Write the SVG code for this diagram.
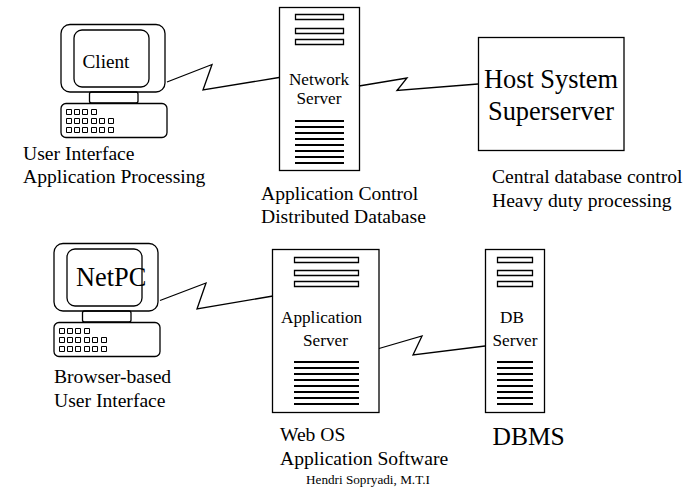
<svg xmlns="http://www.w3.org/2000/svg" xmlns:xlink="http://www.w3.org/1999/xlink" width="691" height="488" viewBox="0 0 691 488">
<style>
text{font-family:"Liberation Serif","Times New Roman",serif;fill:#000}
.s{fill:none;stroke:#000;stroke-width:1.3}
.k{fill:none;stroke:#000;stroke-width:1}
.b{stroke:#000;stroke-width:2;fill:none}
.l{font-size:19.6px}
.m{font-size:17.2px}
.h{font-size:26.4px}
</style>
<defs>
<g id="pc">
<rect class="s" x="61" y="24.500" width="104" height="67.500" rx="9"/>
<rect class="s" x="74" y="30" width="75" height="57" rx="8"/>
<rect class="s" x="89.500" y="92" width="48.500" height="11" rx="2"/>
<rect class="s" x="61" y="103.500" width="106" height="34" rx="5"/>
<path class="k" d="M66.500 109.500h5v5h-5zM74.500 109.500h5v5h-5zM82.500 109.500h5v5h-5zM91.500 109.500h5v5h-5zM66.500 118.500h5v5h-5zM74.500 118.500h5v5h-5zM82.500 118.500h5v5h-5zM91.500 118.500h5v5h-5zM99.500 118.500h5v5h-5zM108.500 118.500h5v5h-5zM66.500 127.500h5v5h-5zM74.500 127.500h5v5h-5zM82.500 127.500h5v5h-5zM91.500 127.500h5v5h-5zM99.500 127.500h5v5h-5zM108.500 127.500h5v5h-5z"/>
</g>
</defs>
<g id="connectors" class="s">
<path d="M167 82L212 64.500L203 90L279 77.500"/>
<path d="M359 86L407 78L397 90.500L478 84"/>
<path d="M160 300.500L206 283L197 309L273 296"/>
<path d="M379 348.500L422 336L413 355L485 346"/>
</g>
<g id="client">
<use xlink:href="#pc" href="#pc"/>
<text x="82.500" y="68" font-size="19.200">Client</text>
</g>
<g id="network-server">
<rect class="s" x="279.500" y="7.500" width="80" height="163"/>
<path class="s" d="M295.500 14.500h48v5h-48zM295.500 28.500h48v5h-48zM295.500 39.500h48v5h-48z"/>
<path class="b" d="M295 121h49M295 127h49M295 133h49M295 139h49M295 145h49M295 151h49M295 157h49M295 163h49"/>
<text class="m" x="319" y="85" text-anchor="middle">Network</text>
<text class="m" x="319" y="104" text-anchor="middle">Server</text>
</g>
<g id="host-system">
<rect class="s" x="478.500" y="37.500" width="145.500" height="113"/>
<text class="h" x="551" y="88" text-anchor="middle">Host System</text>
<text class="h" x="551" y="120" text-anchor="middle">Superserver</text>
</g>
<g id="netpc">
<use xlink:href="#pc" href="#pc" transform="translate(-7 219)"/>
<text class="h" x="76" y="286">NetPC</text>
</g>
<g id="application-server">
<rect class="s" x="272.500" y="249.500" width="106.500" height="163"/>
<path class="s" d="M294.500 257.500h64v5h-64zM294.500 270.500h64v5h-64zM294.500 281.500h64v5h-64z"/>
<path class="b" d="M294 362h65M294 368h65M294 374h65M294 380h65M294 386h65M294 392h65M294 398h65M294 404h65"/>
<text class="m" x="281" y="323">Application</text>
<text class="m" x="303" y="346">Server</text>
</g>
<g id="db-server">
<rect class="s" x="485.500" y="249.500" width="59" height="163"/>
<path class="s" d="M497.500 257.500h35v5h-35zM497.500 270.500h35v5h-35zM497.500 281.500h35v5h-35z"/>
<path class="b" d="M497 362h36M497 368h36M497 374h36M497 380h36M497 386h36M497 392h36M497 398h36M497 404h36"/>
<text class="m" x="500" y="323">DB</text>
<text class="m" x="492.500" y="346">Server</text>
</g>
<g id="labels">
<text class="l" x="23" y="160">User Interface</text>
<text class="l" x="23" y="183">Application Processing</text>
<text class="l" x="261" y="200">Application Control</text>
<text class="l" x="261" y="223">Distributed Database</text>
<text class="l" x="492" y="183">Central database control</text>
<text class="l" x="492" y="207">Heavy duty processing</text>
<text class="l" x="54" y="383">Browser-based</text>
<text class="l" x="54" y="407">User Interface</text>
<text class="l" x="280" y="441">Web OS</text>
<text class="l" x="280" y="465">Application Software</text>
<text x="492.500" y="445" font-size="25.500">DBMS</text>
<text x="306" y="484" font-size="13.200">Hendri Sopryadi, M.T.I</text>
</g>
</svg>
